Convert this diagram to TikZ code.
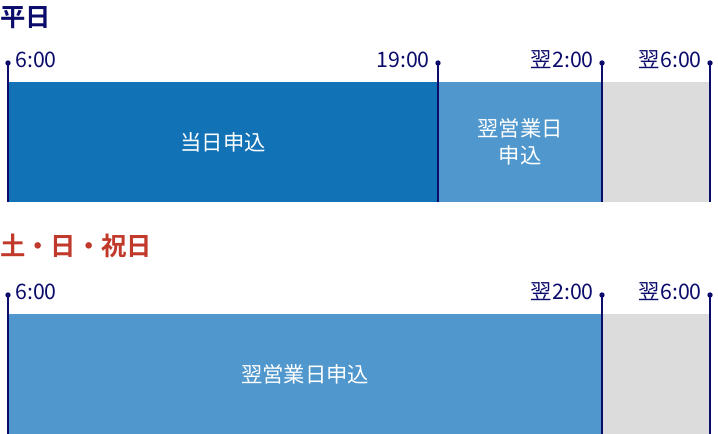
\documentclass[tikz,border=0pt]{standalone}
\usepackage{fontspec}
\setmainfont{Noto Sans CJK JP}
\newfontfamily\jpbold{Noto Sans CJK JP Bold}
\usetikzlibrary{positioning}
\definecolor{navy}{HTML}{0B0B6B}
\definecolor{darkblue}{HTML}{1272B6}
\definecolor{midblue}{HTML}{4F97CC}
\definecolor{lightgrey}{HTML}{DCDCDC}
\definecolor{redtitle}{HTML}{C0392B}
\tikzset{
  title/.style={font=\jpbold\fontsize{19}{19}\selectfont, anchor=west, inner sep=0pt},
  tick/.style={font=\fontsize{16}{16}\selectfont, text=navy, inner sep=0pt},
  bartext/.style={font=\fontsize{16}{20}\selectfont, text=white, align=center},
  dotline/.style={navy, line width=1.3pt}
}
\begin{document}
\begin{tikzpicture}[x=0.75pt,y=-0.75pt]
  \useasboundingbox (0,0) rectangle (718,434);
  %Titles
  \node[title, text=navy] (wd) at (0,18) {平日};
  \node[title, text=redtitle] (we) at (0,246) {土・日・祝日};

  %Bars
  \fill[darkblue] (8,82) rectangle (438,202);
  \fill[midblue] (438,82) rectangle (602,202);
  \fill[lightgrey] (602,82) rectangle (710,202);
  \fill[midblue] (8,314) rectangle (602,434);
  \fill[lightgrey] (602,314) rectangle (710,434);
  \node[bartext] (a) at (223,142) {当日申込};
  \node[bartext] (b) at (520,142) {翌営業日\\申込};
  \node[bartext] (c) at (305,374) {翌営業日申込};

  %Lines
  \foreach \x/\nm in {8/a1,438/a2,602/a3,710/a4}{
    \draw[dotline] (\x,63) -- (\x,202);
    \fill[navy] (\x,63) circle (2.7);
  }
  \foreach \x in {8,602,710}{
    \draw[dotline] (\x,295) -- (\x,434);
    \fill[navy] (\x,295) circle (2.7);
  }

  %Labels
  \node[tick, anchor=west] (t1) at (15,60) {6:00};
  \node[tick, anchor=east] (t2) at (430,60) {19:00};
  \node[tick, anchor=east] (t3) at (594,60) {翌2:00};
  \node[tick, anchor=east] (t4) at (702,60) {翌6:00};
  \node[tick, anchor=west] (u1) at (15,292) {6:00};
  \node[tick, anchor=east] (u3) at (594,292) {翌2:00};
  \node[tick, anchor=east] (u4) at (702,292) {翌6:00};
\end{tikzpicture}
\end{document}
